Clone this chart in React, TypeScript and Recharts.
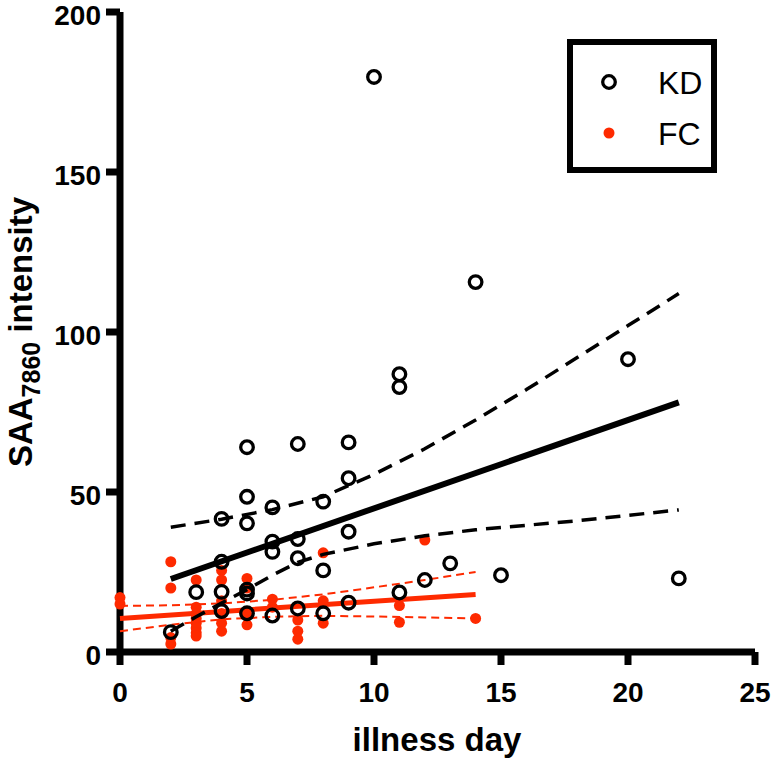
import { ScatterChart, Scatter, XAxis, YAxis } from "recharts";

// KD patients: illness day vs SAA intensity
const kdPoints = [
  { x: 2, y: 6.2 },
  { x: 3, y: 18.7 },
  { x: 4, y: 41.6 }, { x: 4, y: 28.2 }, { x: 4, y: 18.8 }, { x: 4, y: 12.8 },
  { x: 5, y: 64 }, { x: 5, y: 48.5 }, { x: 5, y: 40.2 }, { x: 5, y: 19.5 }, { x: 5, y: 18.3 }, { x: 5, y: 12.1 },
  { x: 6, y: 45.2 }, { x: 6, y: 34.5 }, { x: 6, y: 31.3 }, { x: 6, y: 11.4 },
  { x: 7, y: 65 }, { x: 7, y: 35.3 }, { x: 7, y: 29.3 }, { x: 7, y: 13.6 },
  { x: 8, y: 47 }, { x: 8, y: 25.5 }, { x: 8, y: 12.1 },
  { x: 9, y: 65.5 }, { x: 9, y: 54.3 }, { x: 9, y: 37.6 }, { x: 9, y: 15.4 },
  { x: 10, y: 179.7 },
  { x: 11, y: 86.8 }, { x: 11, y: 82.8 }, { x: 11, y: 18.6 },
  { x: 12, y: 22.5 },
  { x: 13, y: 27.7 },
  { x: 14, y: 115.6 },
  { x: 15, y: 24 },
  { x: 20, y: 91.5 },
  { x: 22, y: 23 },
];

// FC (febrile controls)
const fcPoints = [
  { x: 0, y: 17 }, { x: 0, y: 15 },
  { x: 2, y: 28.2 }, { x: 2, y: 20 }, { x: 2, y: 4.5 }, { x: 2, y: 2.5 },
  { x: 3, y: 22.5 }, { x: 3, y: 14 }, { x: 3, y: 12 }, { x: 3, y: 10.5 }, { x: 3, y: 9 }, { x: 3, y: 7.5 }, { x: 3, y: 6 }, { x: 3, y: 5 },
  { x: 4, y: 25.5 }, { x: 4, y: 22.5 }, { x: 4, y: 16 }, { x: 4, y: 12 }, { x: 4, y: 9 }, { x: 4, y: 6.5 },
  { x: 5, y: 23 }, { x: 5, y: 20 }, { x: 5, y: 11.5 }, { x: 5, y: 8.5 },
  { x: 6, y: 16.5 }, { x: 6, y: 14 },
  { x: 7, y: 10 }, { x: 7, y: 6.5 }, { x: 7, y: 4 },
  { x: 8, y: 31 }, { x: 8, y: 16 }, { x: 8, y: 9 },
  { x: 11, y: 14.5 }, { x: 11, y: 9.3 },
  { x: 12, y: 35 },
  { x: 14, y: 10.5 },
];

// regression lines and 95% bands
const kdFit = [{ x: 2, y: 22.8 }, { x: 22, y: 78 }];
const kdUpper = [
  { x: 2, y: 39 }, { x: 4, y: 41.5 }, { x: 6, y: 44.5 }, { x: 8, y: 48.5 }, { x: 10, y: 55.5 },
  { x: 12, y: 63.5 }, { x: 14, y: 72.5 }, { x: 16, y: 82 }, { x: 18, y: 92 }, { x: 20, y: 102 }, { x: 22, y: 112 },
];
const kdLower = [
  { x: 2, y: 6.5 }, { x: 3, y: 11 }, { x: 4, y: 15.3 }, { x: 5, y: 19.5 }, { x: 6, y: 24 }, { x: 7, y: 28 },
  { x: 8, y: 30.5 }, { x: 10, y: 33.8 }, { x: 12, y: 36.3 }, { x: 14, y: 38.2 }, { x: 16, y: 39.6 },
  { x: 18, y: 41 }, { x: 20, y: 42.7 }, { x: 22, y: 44.4 },
];
const fcFit = [{ x: 0, y: 10.5 }, { x: 14, y: 18 }];
const fcUpper = [
  { x: 0, y: 14.4 }, { x: 2, y: 14.6 }, { x: 4, y: 15.2 }, { x: 6, y: 16.3 },
  { x: 8, y: 18 }, { x: 10, y: 20.2 }, { x: 12, y: 22.5 }, { x: 14, y: 25 },
];
const fcLower = [
  { x: 0, y: 6.5 }, { x: 2, y: 8.5 }, { x: 4, y: 10.2 }, { x: 6, y: 11 },
  { x: 8, y: 11.3 }, { x: 10, y: 11.1 }, { x: 12, y: 10.8 }, { x: 14, y: 10.5 },
];

const xTicks = [0, 5, 10, 15, 20, 25];
const yTicks = [0, 50, 100, 150, 200];

const RED = "#fe2a00";
const FONT = '"Liberation Sans", Arial, Helvetica, sans-serif';

const noDot = () => <g />;

const KdDot = (props: any) => (
  <circle cx={props.cx} cy={props.cy} r={6.3} fill="none" stroke="#000" strokeWidth={3.3} />
);
const FcDot = (props: any) => <circle cx={props.cx} cy={props.cy} r={5.5} fill={RED} />;

const tickStyle = { fill: "#000", fontSize: 28, fontWeight: "bold", fontFamily: FONT };

// y labels sit a few px below their ticks in the original
const YTick = ({ x, y, payload }: any) => (
  <text x={x} y={y + 3} dy="0.355em" textAnchor="end" fontSize={28} fontWeight="bold" fontFamily={FONT} fill="#000">
    {payload.value}
  </text>
);

const XTitle = () => (
  <text x={437} y={751} textAnchor="middle" fontSize={33} fontWeight="bold" fontFamily={FONT} fill="#000">
    illness day
  </text>
);

const YTitle = () => (
  <text
    x={32}
    y={332}
    transform="rotate(-90, 32, 332)"
    textAnchor="middle"
    fontSize={33}
    fontWeight="bold"
    fontFamily={FONT}
    fill="#000"
  >
    <tspan>SAA</tspan>
    <tspan dy={8} fontSize={25}>7860</tspan>
    <tspan dy={-8}> intensity</tspan>
  </text>
);

function LegendBox() {
  return (
    <div
      style={{
        position: "absolute",
        left: 567,
        top: 39,
        width: 138,
        height: 122,
        border: "6px solid #000",
        background: "#fff",
      }}
    >
      <svg width={138} height={122} style={{ display: "block" }}>
        <circle cx={36} cy={37} r={6.3} fill="none" stroke="#000" strokeWidth={3.3} />
        <text x={85} y={48.5} fontSize={32} fontFamily={FONT} fill="#000">KD</text>
        <circle cx={36} cy={88} r={5.5} fill={RED} />
        <text x={85} y={99.5} fontSize={32} fontFamily={FONT} fill="#000">FC</text>
      </svg>
    </div>
  );
}

export default function App() {
  return (
    <div style={{ position: "absolute", left: 0, top: 0, width: 776, height: 760, background: "#fff" }}>
      <ScatterChart width={776} height={760} margin={{ top: 12, right: 21, bottom: 28, left: 40 }}>
        <XAxis
          type="number"
          dataKey="x"
          domain={[0, 25]}
          ticks={xTicks}
          interval={0}
          height={80}
          axisLine={{ stroke: "#000", strokeWidth: 7 }}
          tickLine={{ stroke: "#000", strokeWidth: 7 }}
          tickSize={13}
          tickMargin={17}
          tick={tickStyle}
          label={<XTitle />}
        />
        <YAxis
          type="number"
          dataKey="y"
          domain={[0, 200]}
          ticks={yTicks}
          interval={0}
          width={80}
          axisLine={{ stroke: "#000", strokeWidth: 7 }}
          tickLine={{ stroke: "#000", strokeWidth: 7 }}
          tickSize={14}
          tickMargin={5}
          tick={<YTick />}
          label={<YTitle />}
        />
        <Scatter name="FC" data={fcPoints} shape={FcDot} isAnimationActive={false} />
        <Scatter data={fcUpper} shape={noDot} line={{ stroke: RED, strokeWidth: 2, strokeDasharray: "8 5" }} isAnimationActive={false} />
        <Scatter data={fcLower} shape={noDot} line={{ stroke: RED, strokeWidth: 2, strokeDasharray: "8 5" }} isAnimationActive={false} />
        <Scatter data={fcFit} shape={noDot} line={{ stroke: RED, strokeWidth: 5 }} isAnimationActive={false} />
        <Scatter name="KD" data={kdPoints} shape={KdDot} isAnimationActive={false} />
        <Scatter data={kdUpper} shape={noDot} line={{ stroke: "#000", strokeWidth: 3.5, strokeDasharray: "15 9" }} isAnimationActive={false} />
        <Scatter data={kdLower} shape={noDot} line={{ stroke: "#000", strokeWidth: 3.5, strokeDasharray: "15 9" }} isAnimationActive={false} />
        <Scatter data={kdFit} shape={noDot} line={{ stroke: "#000", strokeWidth: 6 }} isAnimationActive={false} />
      </ScatterChart>
      <LegendBox />
    </div>
  );
}
